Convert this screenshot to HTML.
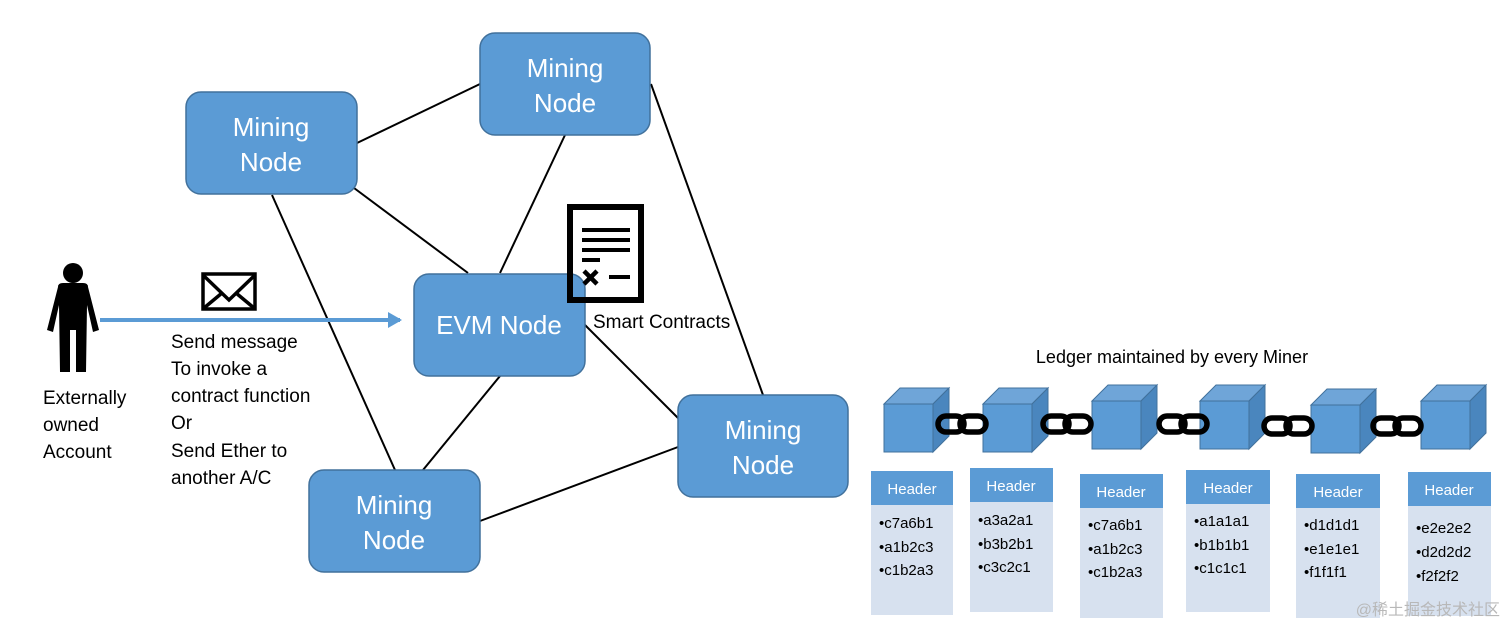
<!DOCTYPE html>
<html><head><meta charset="utf-8"><style>
body{margin:0;background:#fff;}
svg{display:block;}
text{font-family:"Liberation Sans","Noto Sans CJK SC",sans-serif;}
</style></head><body>
<svg width="1512" height="641" viewBox="0 0 1512 641" xmlns="http://www.w3.org/2000/svg">
<defs>
<marker id="ah" markerWidth="14" markerHeight="16" refX="12" refY="8" orient="auto" markerUnits="userSpaceOnUse">
<path d="M0,0 L14,8 L0,16 Z" fill="#5b9bd5"/></marker>
<g id="cube">
<path d="M0,16 L16,0 L65,0 L49,16 Z" fill="#6fa5d8" stroke="#41719c" stroke-width="1"/>
<path d="M49,16 L65,0 L65,48 L49,64 Z" fill="#4a86be" stroke="#41719c" stroke-width="1"/>
<rect x="0" y="16" width="49" height="48" fill="#5b9bd5" stroke="#41719c" stroke-width="1"/>
</g>
<g id="chain" fill="none" stroke="#000" stroke-width="5.5">
<rect x="-24" y="-8" width="26" height="16" rx="8"/>
<rect x="-2" y="-8" width="26" height="16" rx="8"/>
</g>
</defs>
<g stroke="#000" stroke-width="2">
<line x1="357" y1="143" x2="480" y2="84"/>
<line x1="350" y1="185" x2="468" y2="273"/>
<line x1="272" y1="195" x2="395" y2="470"/>
<line x1="565" y1="135" x2="500" y2="273"/>
<line x1="651" y1="84" x2="763" y2="395"/>
<line x1="585" y1="325" x2="678" y2="418"/>
<line x1="500" y1="376" x2="423" y2="470"/>
<line x1="480" y1="521" x2="678" y2="447"/>
</g>
<g fill="#5b9bd5" stroke="#41719c" stroke-width="1.5">
<rect x="186" y="92" width="171" height="102" rx="15"/>
<rect x="480" y="33" width="170" height="102" rx="15"/>
<rect x="414" y="274" width="171" height="102" rx="15"/>
<rect x="309" y="470" width="171" height="102" rx="15"/>
<rect x="678" y="395" width="170" height="102" rx="15"/>
</g>
<g fill="#fff" font-size="26" text-anchor="middle">
<text x="271" y="136">Mining</text><text x="271" y="171">Node</text>
<text x="565" y="77">Mining</text><text x="565" y="112">Node</text>
<text x="499" y="334">EVM Node</text>
<text x="394" y="514">Mining</text><text x="394" y="549">Node</text>
<text x="763" y="439">Mining</text><text x="763" y="474">Node</text>
</g>
<g fill="#000">
<circle cx="73" cy="273" r="10"/>
<path d="M58,287 Q58,283 63,283 L83,283 Q88,283 88,287 L99,330 L93,332 L87,305 L86,372 L76,372 L76,330 L70,330 L70,372 L60,372 L59,305 L53,332 L47,330 Z"/>
</g>
<line x1="100" y1="320" x2="400" y2="320" stroke="#5b9bd5" stroke-width="4" marker-end="url(#ah)"/>
<g fill="none" stroke="#000" stroke-width="3.5">
<rect x="203" y="274" width="52" height="35"/>
<polyline points="204,276 229,300 254,276"/>
<line x1="204" y1="308" x2="222" y2="293"/><line x1="254" y1="308" x2="236" y2="293"/>
</g>
<rect x="570" y="207" width="71" height="93" fill="none" stroke="#000" stroke-width="6"/>
<g stroke="#000" stroke-width="4">
<line x1="582" y1="230" x2="630" y2="230"/><line x1="582" y1="240" x2="630" y2="240"/>
<line x1="582" y1="250" x2="630" y2="250"/><line x1="582" y1="260" x2="600" y2="260"/>
<line x1="609" y1="277" x2="630" y2="277"/>
<line x1="584" y1="271" x2="597" y2="284" stroke-width="4.5"/><line x1="597" y1="271" x2="584" y2="284" stroke-width="4.5"/>
</g>
<g font-size="19" fill="#000">
<text x="593" y="328">Smart Contracts</text>
<text x="43" y="404">Externally</text><text x="43" y="431">owned</text><text x="43" y="458">Account</text>
<text x="171" y="348">Send message</text><text x="171" y="375">To invoke a</text>
<text x="171" y="402">contract function</text><text x="171" y="429">Or</text>
<text x="171" y="457">Send Ether to</text><text x="171" y="484">another A/C</text>
<text x="1172" y="363" text-anchor="middle" font-size="18">Ledger maintained by every Miner</text>
</g>
<use href="#cube" x="884" y="388"/>
<use href="#cube" x="983" y="388"/>
<use href="#cube" x="1092" y="385"/>
<use href="#cube" x="1200" y="385"/>
<use href="#cube" x="1311" y="389"/>
<use href="#cube" x="1421" y="385"/>
<use href="#chain" x="962" y="424"/>
<use href="#chain" x="1067" y="424"/>
<use href="#chain" x="1183" y="424"/>
<use href="#chain" x="1288" y="426"/>
<use href="#chain" x="1397" y="426"/>
<g>
<rect x="871" y="505" width="82" height="110" fill="#d7e1ef"/><rect x="871" y="471" width="82" height="34" fill="#5b9bd5"/>
<rect x="970" y="502" width="83" height="110" fill="#d7e1ef"/><rect x="970" y="468" width="83" height="34" fill="#5b9bd5"/>
<rect x="1080" y="508" width="83" height="110" fill="#d7e1ef"/><rect x="1080" y="474" width="83" height="34" fill="#5b9bd5"/>
<rect x="1186" y="504" width="84" height="108" fill="#d7e1ef"/><rect x="1186" y="470" width="84" height="34" fill="#5b9bd5"/>
<rect x="1296" y="508" width="84" height="110" fill="#d7e1ef"/><rect x="1296" y="474" width="84" height="34" fill="#5b9bd5"/>
<rect x="1408" y="506" width="83" height="110" fill="#d7e1ef"/><rect x="1408" y="472" width="83" height="34" fill="#5b9bd5"/>
</g>
<g fill="#fff" font-size="15" text-anchor="middle">
<text x="912" y="494">Header</text><text x="1011" y="491">Header</text><text x="1121" y="497">Header</text>
<text x="1228" y="493">Header</text><text x="1338" y="497">Header</text><text x="1449" y="495">Header</text>
</g>
<g fill="#000" font-size="15">
<text x="879" y="528">•c7a6b1</text><text x="879" y="552">•a1b2c3</text><text x="879" y="575">•c1b2a3</text>
<text x="978" y="525">•a3a2a1</text><text x="978" y="549">•b3b2b1</text><text x="978" y="572">•c3c2c1</text>
<text x="1088" y="530">•c7a6b1</text><text x="1088" y="554">•a1b2c3</text><text x="1088" y="577">•c1b2a3</text>
<text x="1194" y="526">•a1a1a1</text><text x="1194" y="550">•b1b1b1</text><text x="1194" y="573">•c1c1c1</text>
<text x="1304" y="530">•d1d1d1</text><text x="1304" y="554">•e1e1e1</text><text x="1304" y="577">•f1f1f1</text>
<text x="1416" y="533">•e2e2e2</text><text x="1416" y="557">•d2d2d2</text><text x="1416" y="581">•f2f2f2</text>
</g>
<text x="1500" y="615" text-anchor="end" font-size="16" fill="#b8b8b8">@稀土掘金技术社区</text>
</svg>
</body></html>
